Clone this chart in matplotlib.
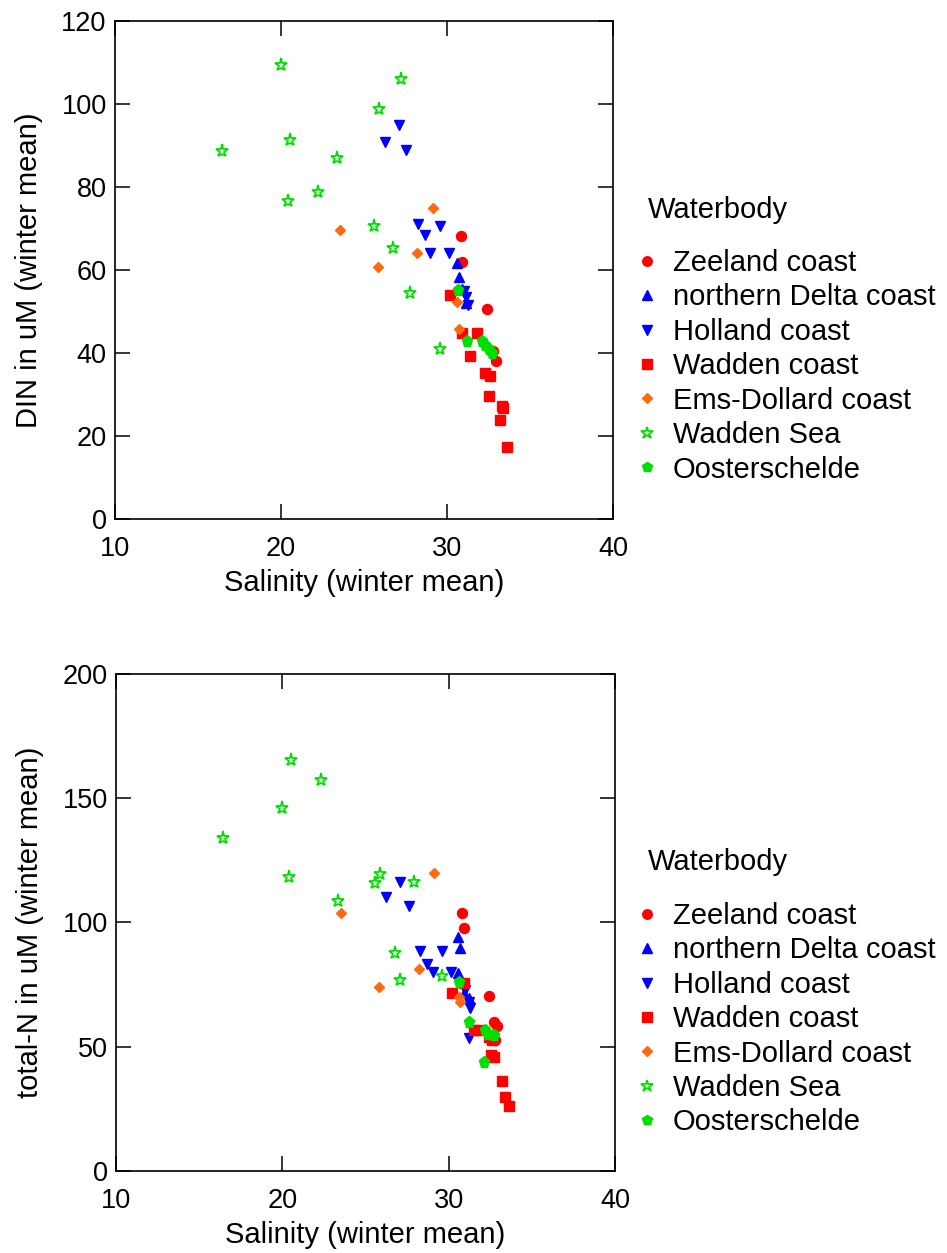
import matplotlib
matplotlib.use("Agg")
import matplotlib.pyplot as plt

plt.rcParams["font.family"] = ["Liberation Sans", "DejaVu Sans"]

# salinity vs DIN (winter means) per waterbody
zeeland_sal_din = [30.85, 30.9, 32.4, 32.8, 32.95]
zeeland_din = [68.1, 62.0, 50.7, 40.6, 38.1]
ndelta_sal_din = [30.6, 30.7, 30.9, 31.15]
ndelta_din = [61.6, 58.2, 55.5, 52.0]
holland_sal_din = [26.27, 27.1, 27.5, 28.25, 28.7, 29.6, 29.0, 30.1, 31.0, 31.15, 31.25]
holland_din = [90.9, 95.0, 89.0, 71.2, 68.5, 70.7, 64.2, 64.2, 55.0, 53.5, 51.5]
wcoast_sal_din = [30.2, 30.9, 31.8, 31.4, 32.3, 32.6, 32.5, 33.3, 33.4, 33.2, 33.6]
wcoast_din = [53.9, 44.7, 44.7, 39.2, 35.1, 34.4, 29.6, 27.2, 26.7, 23.8, 17.3]
ems_sal_din = [29.15, 28.2, 25.85, 23.55, 30.6, 30.7]
ems_din = [75.0, 64.2, 60.8, 69.7, 52.2, 45.9]
wsea_sal_din = [20.0, 16.45, 20.54, 23.37, 20.42, 22.2, 27.2, 25.9, 25.6, 26.75, 27.8, 29.6]
wsea_din = [109.4, 88.7, 91.4, 87.1, 76.7, 78.9, 106.1, 98.8, 70.5, 65.2, 54.4, 40.9]
oost_sal_din = [30.65, 31.2, 32.1, 32.3, 32.5, 32.7]
oost_din = [55.3, 42.8, 43.0, 42.0, 41.0, 40.0]

# salinity vs total-N (winter means) per waterbody
zeeland_sal_tn = [30.8, 30.9, 32.4, 32.7, 32.9, 32.8]
zeeland_tn = [103.8, 97.8, 70.4, 60.0, 58.3, 52.7]
ndelta_sal_tn = [30.55, 30.7, 30.55, 30.95, 31.2]
ndelta_tn = [94.2, 89.7, 79.7, 71.6, 69.6]
holland_sal_tn = [27.1, 26.25, 27.6, 28.3, 29.6, 28.7, 29.05, 30.15, 31.0, 31.2, 31.3, 31.2]
holland_tn = [116.3, 110.3, 106.6, 88.5, 88.5, 83.3, 80.1, 80.1, 73.0, 68.0, 65.6, 53.5]
wcoast_sal_tn = [30.95, 30.2, 31.5, 31.8, 32.4, 32.6, 32.55, 32.7, 33.2, 33.4, 33.6]
wcoast_tn = [75.7, 71.6, 56.7, 56.7, 53.9, 52.7, 46.7, 45.9, 36.2, 29.8, 26.2]
ems_sal_tn = [29.1, 28.2, 25.8, 23.5, 30.6, 30.7]
ems_tn = [119.9, 81.3, 74.0, 103.8, 70.0, 68.0]
wsea_sal_tn = [16.45, 20.0, 20.5, 22.3, 20.4, 23.35, 25.9, 25.55, 27.9, 26.8, 27.1, 29.6]
wsea_tn = [134.0, 146.1, 165.4, 157.3, 118.3, 108.7, 119.5, 115.9, 116.3, 87.7, 76.9, 78.5]
oost_sal_tn = [30.65, 31.2, 32.2, 32.35, 32.7, 32.1]
oost_tn = [76.1, 60.0, 56.7, 55.1, 54.7, 43.9]

labels = ["Zeeland coast", "northern Delta coast", "Holland coast", "Wadden coast",
          "Ems-Dollard coast", "Wadden Sea", "Oosterschelde"]

GREEN = "#00e000"
styles = [
    dict(marker="o", color="#ff0000", markersize=7.2),
    dict(marker="^", color="#0000ff", markersize=7.8),
    dict(marker="v", color="#0000ff", markersize=7.8),
    dict(marker="s", color="#ff0000", markersize=7.6),
    dict(marker="D", color="#ff6a10", markersize=5.6),
    dict(marker="*", color=GREEN, markersize=9.5, markerfacecolor="none",
         markeredgewidth=1.3),
    dict(marker="p", color=GREEN, markersize=8.2),
]

din_sets = [(zeeland_sal_din, zeeland_din), (ndelta_sal_din, ndelta_din),
            (holland_sal_din, holland_din), (wcoast_sal_din, wcoast_din),
            (ems_sal_din, ems_din), (wsea_sal_din, wsea_din), (oost_sal_din, oost_din)]
tn_sets = [(zeeland_sal_tn, zeeland_tn), (ndelta_sal_tn, ndelta_tn),
           (holland_sal_tn, holland_tn), (wcoast_sal_tn, wcoast_tn),
           (ems_sal_tn, ems_tn), (wsea_sal_tn, wsea_tn), (oost_sal_tn, oost_tn)]

W, H = 947, 1253
fig = plt.figure(figsize=(W / 100, H / 100), dpi=100)


def px_box(left, top, right, bottom):
    return [left / W, 1 - bottom / H, (right - left) / W, (bottom - top) / H]


def panel(box, sets, ylim, yticks, ylabel, legend_top, title_y):
    ax = fig.add_axes(px_box(*box))
    handles = []
    for (sx, sy), st in zip(sets, styles):
        h, = ax.plot(sx, sy, linestyle="none", **st)
        handles.append(h)
    ax.set_xlim(10, 40)
    ax.set_ylim(*ylim)
    ax.set_xticks([10, 20, 30, 40])
    ax.set_yticks(yticks)
    ax.tick_params(direction="in", length=11, width=1.1, top=True, right=True,
                   labelsize=19.5)
    ax.tick_params(axis="x", pad=12)
    ax.tick_params(axis="y", pad=6)
    for sp in ax.spines.values():
        sp.set_linewidth(1.2)
    ax.set_xlabel("Salinity (winter mean)", fontsize=21, labelpad=5)
    ax.set_ylabel(ylabel, fontsize=21, labelpad=13)

    fig.text(648 / W, 1 - title_y / H, "Waterbody", fontsize=21,
             ha="left", va="center")
    fig.legend(handles, labels, loc="upper left",
               bbox_to_anchor=(632 / W, 1 - legend_top / H),
               frameon=False, fontsize=21, borderpad=0, borderaxespad=0,
               handlelength=1.0, handletextpad=0.4, labelspacing=0.22,
               markerscale=0.95)
    return ax


panel((115, 21, 613, 519), din_sets, (0, 120), [0, 20, 40, 60, 80, 100, 120],
      "DIN in uM (winter mean)", 249, 210)
panel((116, 674, 615, 1171), tn_sets, (0, 200), [0, 50, 100, 150, 200],
      "total-N in uM (winter mean)", 902, 862)

fig.savefig("out.png", dpi=100)
